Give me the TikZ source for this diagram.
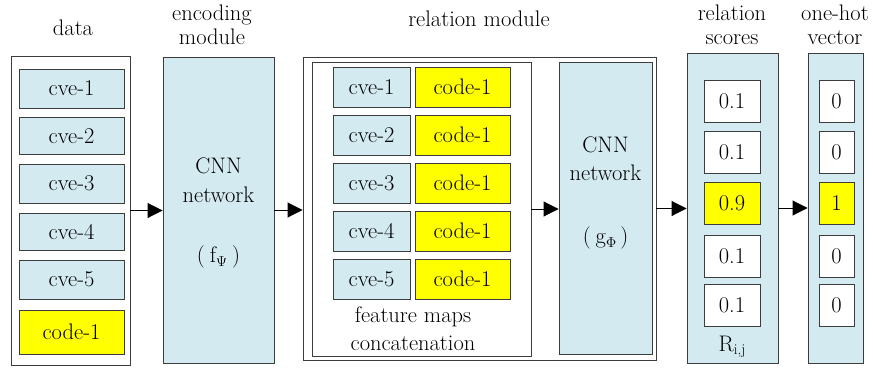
\documentclass[tikz,border=0pt]{standalone}
\usepackage{fontspec}
\usetikzlibrary{arrows.meta}
\definecolor{lblue}{RGB}{210,234,240}
\definecolor{lyel}{RGB}{255,255,0}
\definecolor{edge}{RGB}{60,60,60}
\tikzset{
  every node/.style={font=\rmfamily\fontsize{22.5}{24}\selectfont, inner sep=0pt},
  frame/.style={draw=edge, line width=0.9pt, fill=white},
  bluebox/.style={draw=edge, line width=0.9pt, fill=lblue},
  yelbox/.style={draw=edge, line width=0.9pt, fill=lyel},
  whitebox/.style={draw=edge, line width=0.9pt, fill=white},
  flow/.style={line width=0.9pt, -{Triangle[length=15pt,width=15pt]}},
  heading/.style={align=center}
}
\newcommand{\subsc}[1]{\raisebox{-0.35ex}{\fontsize{15}{15}\selectfont #1}}
\begin{document}
\begin{tikzpicture}[x=1pt,y=-1pt]
\useasboundingbox (0,0) rectangle (873,367);

% ---- data column ----
\node[heading] (tdata) at (73,28) {data};
\node[frame, minimum width=119pt, minimum height=309pt] (data) at (70.5,210.5) {};
\node[bluebox, minimum width=105pt, minimum height=39pt] (d1) at (71.5,88.5) {cve-1};
\node[bluebox, minimum width=105pt, minimum height=37pt] (d2) at (71.5,136) {cve-2};
\node[bluebox, minimum width=105pt, minimum height=39pt] (d3) at (71.5,183.5) {cve-3};
\node[bluebox, minimum width=105pt, minimum height=37pt] (d4) at (71.5,232) {cve-4};
\node[bluebox, minimum width=105pt, minimum height=39pt] (d5) at (71.5,279.5) {cve-5};
\node[yelbox, minimum width=105pt, minimum height=44pt] (d6) at (71.5,332) {code-1};

% ---- encoding module ----
\node[heading] (tenc) at (212,25) {encoding\\module};
\node[bluebox, minimum width=111pt, minimum height=306pt] (enc) at (218.5,210) {};
\node (enc1) at (218.5,166) {CNN};
\node (enc2) at (218.5,195) {network};
\node (enc3) at (218.5,257) {(\hspace{5pt}f\subsc{$\Psi$}\hspace{5pt})};

% ---- relation module ----
\node[heading] (trel) at (479,19) {relation\hspace{7pt}module};
\node[frame, minimum width=353pt, minimum height=303pt] (rel) at (479.5,208.5) {};
\node[whitebox, minimum width=219pt, minimum height=294pt] (cat) at (421.5,209) {};
\foreach \i/\y in {1/87,2/135,3/183,4/231,5/279}{
  \node[bluebox, minimum width=77pt, minimum height=40pt] (c\i) at (371.5,\y) {cve-\i};
  \node[yelbox, minimum width=95pt, minimum height=40pt] (k\i) at (462.5,\y) {code-1};
}
\node[heading] (tcat) at (413,329) {feature maps\\[4pt]concatenation};
\node[bluebox, minimum width=93pt, minimum height=292pt] (rnet) at (605.5,208) {};
\node (r1) at (605.5,145) {CNN};
\node (r2) at (605.5,173) {network};
\node (r3) at (605.5,238) {(\hspace{5pt}g\subsc{$\Phi$}\hspace{4pt})};

% ---- relation scores ----
\node[heading] (tsc) at (732,25) {relation\\scores};
\node[bluebox, minimum width=91pt, minimum height=310pt] (sc) at (732.5,208) {};
\foreach \i/\y/\v/\st in {1/101/0.1/whitebox,2/152/0.1/whitebox,3/203/0.9/yelbox,4/256/0.1/whitebox,5/305.5/0.1/whitebox}{
  \node[\st, minimum width=56pt, minimum height=42pt] (s\i) at (732,\y) {\v};
}
\node (rij) at (732,347) {R\subsc{i,j}};

% ---- one-hot vector ----
\node[heading] (toh) at (835,25) {one-hot\\vector};
\node[bluebox, minimum width=55pt, minimum height=310pt] (oh) at (835.5,208) {};
\foreach \i/\y/\v/\st in {1/101/0/whitebox,2/152/0/whitebox,3/203/1/yelbox,4/256/0/whitebox,5/305.5/0/whitebox}{
  \node[\st, minimum width=35pt, minimum height=42pt] (o\i) at (836.5,\y) {\v};
}

% ---- connectors ----
\draw[flow] (data.east) -- (data.east -| enc.west);
\draw[flow] (enc.east) -- (enc.east -| rel.west);
\draw[flow] (cat.east) -- (cat.east -| rnet.west);
\draw[flow] (rel.east) -- (rel.east -| sc.west);
\draw[flow] (sc.east) -- (sc.east -| oh.west);
\end{tikzpicture}
\end{document}
